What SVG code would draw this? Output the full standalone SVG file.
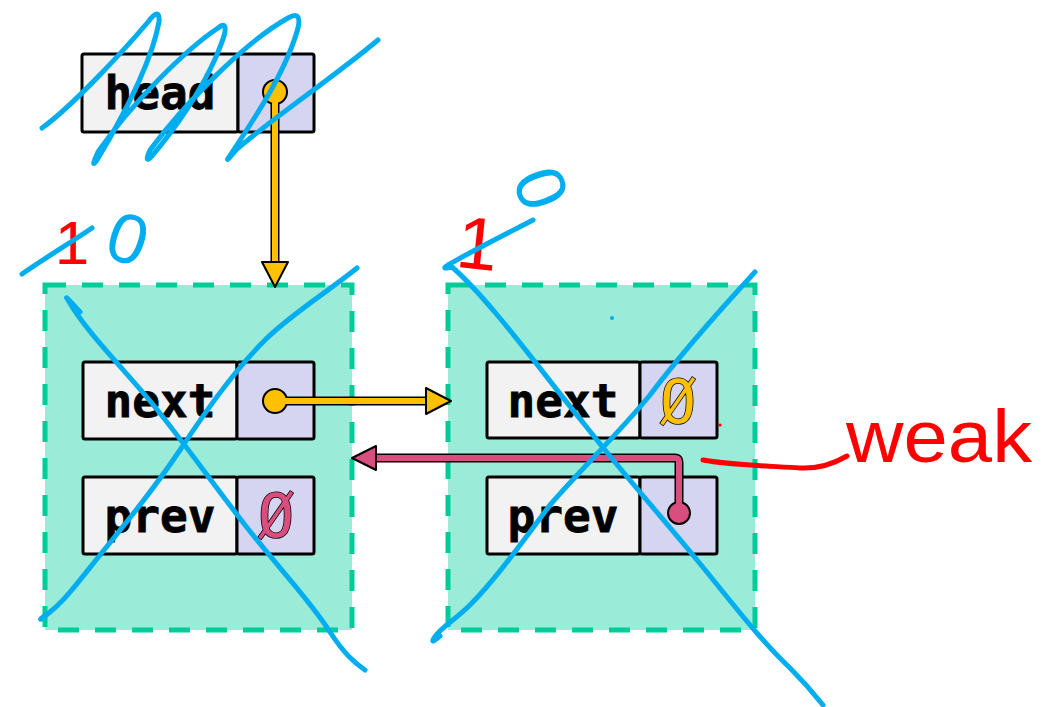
<svg xmlns="http://www.w3.org/2000/svg" width="1054" height="707" viewBox="0 0 1054 707">
  <style>
    .box { fill: #9BEBD9; stroke: #00CC99; stroke-width: 5; stroke-dasharray: 21 16; }
    .label { fill: #F2F2F2; stroke: #000; stroke-width: 3; }
    .ptr { fill: #D5D5F2; stroke: #000; stroke-width: 3; }
    .name { font-family: "DejaVu Sans Mono", "Liberation Mono", monospace; font-weight: bold; font-size: 46px; fill: #000; stroke: #000; stroke-width: 0.8; text-anchor: middle; }
    .null { font-family: "DejaVu Sans Mono", monospace; font-size: 60px; text-anchor: middle; stroke: #000; stroke-width: 1.5; paint-order: stroke; }
    .edge-out { fill: none; stroke: #000; stroke-width: 9; stroke-linejoin: round; }
    .y { stroke: #FFC000; fill: #FFC000; }
    .p { stroke: #D94E7E; fill: #D94E7E; }
    .edge-in { fill: none; stroke-width: 6; stroke-linejoin: round; }
    .head { stroke: #000; stroke-width: 2; stroke-linejoin: round; }
    .ink { fill: none; stroke: #00AEEF; stroke-width: 5; stroke-linecap: round; stroke-linejoin: round; }
    .redink { fill: none; stroke: #FF0000; stroke-width: 5; stroke-linecap: round; stroke-linejoin: round; }
    .hand { font-family: "Liberation Sans", Arial, sans-serif; }
  </style>

  <!-- list head -->
  <g id="head">
    <rect class="label" x="82" y="54" width="156" height="78" rx="2"/>
    <rect class="ptr" x="238" y="54" width="76" height="78" rx="2"/>
    <text class="name" x="160" y="109">head</text>
  </g>

  <!-- first node -->
  <g id="node1">
    <rect class="box" x="45" y="285" width="307" height="345"/>
    <rect class="label" x="83" y="362" width="154" height="77" rx="2"/>
    <rect class="ptr" x="237" y="362" width="77" height="77" rx="2"/>
    <text class="name" x="160" y="417">next</text>
    <rect class="label" x="83" y="477" width="154" height="77" rx="2"/>
    <rect class="ptr" x="237" y="477" width="77" height="77" rx="2"/>
    <text class="name" x="160" y="532">prev</text>
    <text class="null" x="276" y="537" fill="#D94E7E">Ø</text>
  </g>

  <!-- second node -->
  <g id="node2">
    <rect class="box" x="448" y="285" width="307" height="345"/>
    <rect class="label" x="487" y="362" width="153" height="76" rx="2"/>
    <rect class="ptr" x="640" y="362" width="77" height="76" rx="2"/>
    <text class="name" x="563" y="417">next</text>
    <rect class="label" x="487" y="477" width="153" height="77" rx="2"/>
    <rect class="ptr" x="640" y="477" width="77" height="77" rx="2"/>
    <text class="name" x="563" y="532">prev</text>
    <text class="null" x="678" y="423" fill="#FFC000">Ø</text>
  </g>

  <!-- pointers -->
  <g id="connectors">
    <!-- head -> node1 -->
    <path class="edge-out" d="M275,92 V264"/>
    <circle cx="275" cy="92" r="12" class="y head"/>
    <path class="edge-in y" d="M275,92 V266"/>
    <polygon class="y head" points="262,262 288,262 275,287"/>
    <!-- node1.next -> node2 -->
    <path class="edge-out" d="M275,401 H428"/>
    <circle cx="275" cy="401" r="12" class="y head"/>
    <path class="edge-in y" d="M275,401 H430"/>
    <polygon class="y head" points="426,388 426,414 451,401"/>
    <!-- node2.prev -> node1 (weak) -->
    <path class="edge-out" d="M679,513 V462 Q679,458 675,458 H374"/>
    <circle cx="679" cy="513" r="11" class="p head"/>
    <path class="edge-in p" d="M679,513 V462 Q679,458 675,458 H372"/>
    <polygon class="p head" points="376,446 376,470 352,458"/>
  </g>

  <!-- reference counts -->
  <g id="counts">
    <text class="hand" x="72" y="264" font-size="62" fill="#FF0000" text-anchor="middle">1</text>
    <text class="hand" x="128" y="263" font-size="70" fill="#00AEEF" text-anchor="middle" transform="rotate(18 128 238)">0</text>
    <text class="hand" x="478" y="269" font-size="74" fill="#FF0000" text-anchor="middle" transform="rotate(6 478 240)">1</text>
    <text class="hand" x="542" y="213" font-size="70" fill="#00AEEF" text-anchor="middle" transform="rotate(70 542 188)">0</text>
  </g>

  <!-- weak annotation -->
  <g id="weak">
    <path class="redink" d="M703,460 C730,465 770,466 800,468 C820,469 835,463 847,456"/>
    <text class="hand" x="846" y="462" font-size="74" fill="#FF0000" textLength="186" lengthAdjust="spacingAndGlyphs">weak</text>
    <circle cx="720" cy="425" r="1.6" fill="#FF0000"/>
  </g>

  <!-- crossings-out -->
  <g id="strikes">
    <path class="ink" d="M42,128 C70,108 120,55 148,22 Q160,6 159,22 C150,70 115,130 97,160 Q90,170 98,152 C130,105 185,50 218,28 Q228,20 224,36 C208,85 170,135 151,157 Q144,164 150,150 C180,110 240,45 288,18 Q302,10 298,28 C285,75 250,125 229,157 Q224,164 236,150 C270,120 330,80 378,40"/>
    <path class="ink" d="M22,274 C45,258 70,243 92,228"/>
    <path class="ink" d="M80,312 Q62,292 68,300 C85,330 120,365 145,395 C175,430 210,480 245,525 C280,570 310,600 330,632 C345,655 355,663 365,670"/>
    <path class="ink" d="M357,268 C330,290 290,315 265,340 C230,375 200,420 180,450 C150,495 120,530 100,555 C80,580 65,600 50,612 Q34,625 45,615"/>
    <path class="ink" d="M533,220 C510,232 470,252 448,265 Q440,270 452,267 C490,300 540,370 585,425 C620,470 660,515 697,560 C730,600 760,640 790,668 C805,683 815,695 823,705"/>
    <path class="ink" d="M755,272 C720,310 680,355 650,395 C620,432 580,470 550,505 C520,545 495,580 470,605 C455,620 440,628 434,638 Q430,645 440,636"/>
    <circle cx="612" cy="318" r="2" fill="#00AEEF"/>
  </g>
</svg>
